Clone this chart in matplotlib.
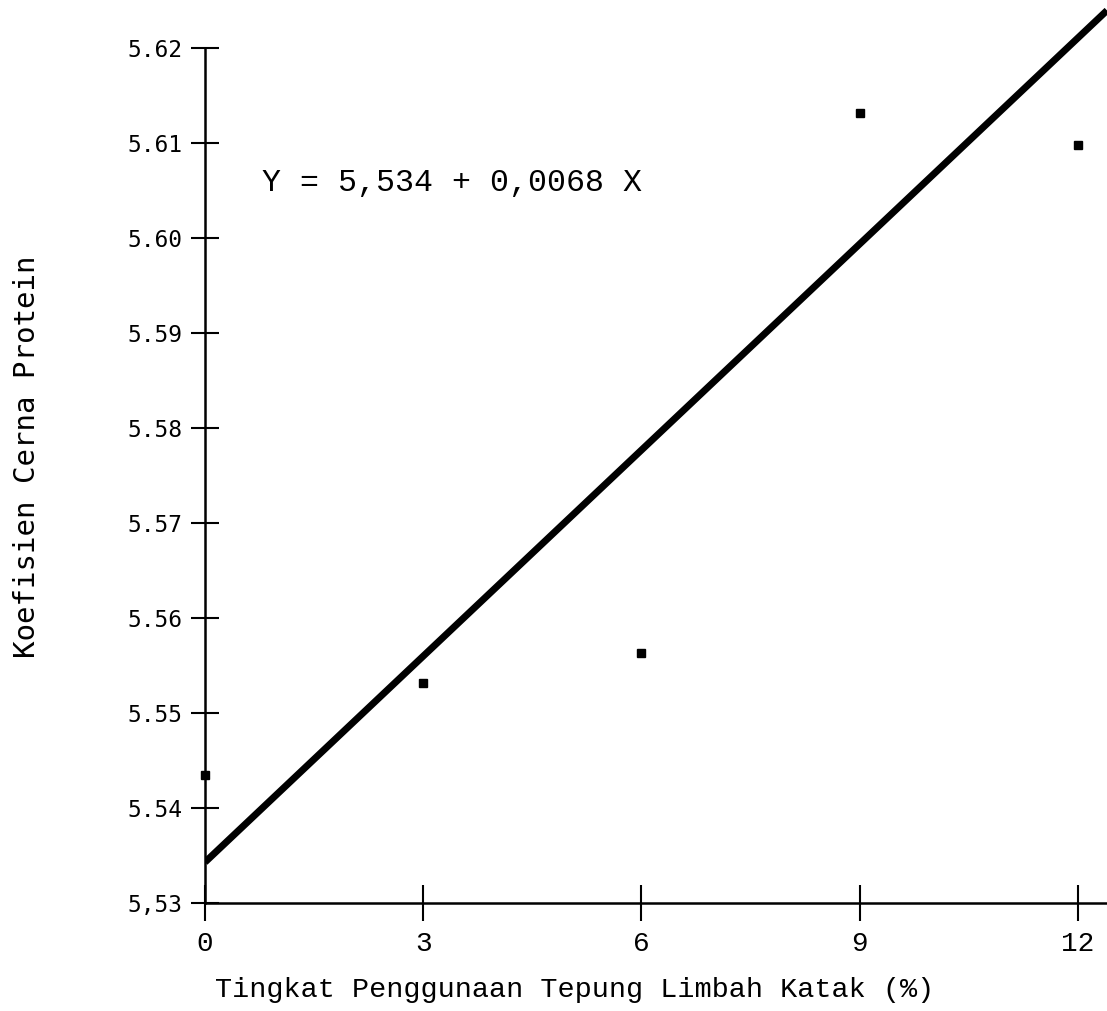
import matplotlib.pyplot as plt

# data
tingkat = [0, 3, 6, 9, 12]
koefisien = [5.5435, 5.5532, 5.5563, 5.6132, 5.6098]

# regression line as drawn in the picture
garis_x = [0, 12.4]
garis_y = [5.5343, 5.6240]

yticks = [5.53, 5.54, 5.55, 5.56, 5.57, 5.58, 5.59, 5.60, 5.61, 5.62]
ytick_labels = ['5,53', '5.54', '5.55', '5.56', '5.57', '5.58', '5.59', '5.60', '5.61', '5.62']
xticks = [0, 3, 6, 9, 12]
xtick_labels = ['0', '3', '6', '9', '12']

persamaan = 'Y = 5,534 + 0,0068 X'

fig = plt.figure(figsize=(11.07, 10.11), dpi=100)
ax = fig.add_axes([0.1852, 0.1068, 0.8148, 0.8932])

ax.plot(garis_x, garis_y, color='black', linewidth=5, solid_capstyle='butt')
ax.plot(tingkat, koefisien, 's', color='black', markersize=6, clip_on=False)

ax.set_xlim(0, 12.4)
ax.set_ylim(5.53, 5.6251)

ax.spines['top'].set_visible(False)
ax.spines['right'].set_visible(False)
ax.spines['left'].set_bounds(5.53, 5.62)
ax.spines['left'].set_linewidth(1.8)
ax.spines['bottom'].set_linewidth(1.8)

ax.set_yticks(yticks)
ax.set_yticklabels(ytick_labels, family='DejaVu Sans Mono', fontsize=16.5)
ax.set_xticks(xticks)
ax.set_xticklabels(xtick_labels, family='Liberation Mono', fontsize=20)
ax.tick_params(axis='y', direction='inout', length=20, width=1.5, pad=6)
ax.tick_params(axis='x', direction='inout', length=26, width=1.5, pad=7)

ax.text(0.78, 5.6058, persamaan, family='Liberation Mono', fontsize=22.8,
        va='center', ha='left')

fig.text(0.519, 0.021, 'Tingkat Penggunaan Tepung Limbah Katak (%)',
         family='Liberation Mono', fontsize=20.5, ha='center', va='center')
fig.text(0.024, 0.548, 'Koefisien Cerna Protein', family='DejaVu Sans Mono',
         fontsize=21, rotation=90, ha='center', va='center')

fig.savefig('out.png', dpi=100)
